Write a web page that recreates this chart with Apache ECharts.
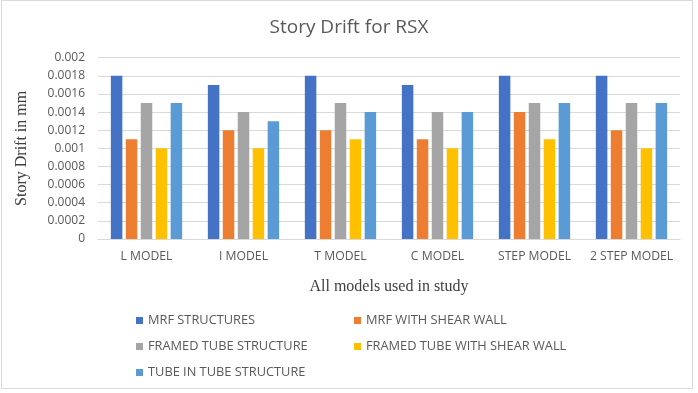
<!DOCTYPE html>
<html><head><meta charset="utf-8">
<script src="https://cdn.jsdelivr.net/npm/echarts@6/dist/echarts.min.js"></script>
<style>
html,body{margin:0;padding:0;background:#fff;}
#frame{position:absolute;left:1px;top:0;width:692px;height:389px;border:1px solid #d9d9d9;box-sizing:border-box;}
#c{position:absolute;left:0;top:0;width:698px;height:393px;}
</style></head>
<body>
<div id="frame"></div>
<div id="c"></div>
<script>
const categories = ['L MODEL', 'I MODEL', 'T MODEL', 'C MODEL', 'STEP MODEL', '2 STEP MODEL'];
const seriesNames = ['MRF STRUCTURES', 'MRF WITH SHEAR WALL', 'FRAMED TUBE STRUCTURE', 'FRAMED TUBE WITH SHEAR WALL', 'TUBE IN TUBE STRUCTURE'];
const mrfStructures = [0.0018, 0.0017, 0.0018, 0.0017, 0.0018, 0.0018];
const mrfWithShearWall = [0.0011, 0.0012, 0.0012, 0.0011, 0.0014, 0.0012];
const framedTube = [0.0015, 0.0014, 0.0015, 0.0014, 0.0015, 0.0015];
const framedTubeShearWall = [0.0010, 0.0010, 0.0011, 0.0010, 0.0011, 0.0010];
const tubeInTube = [0.0015, 0.0013, 0.0014, 0.0014, 0.0015, 0.0015];
const colors = ['#4472C4', '#ED7D31', '#A5A5A5', '#FFC000', '#5B9BD5'];
const allValues = [mrfStructures, mrfWithShearWall, framedTube, framedTubeShearWall, tubeInTube];

const chart = echarts.init(document.getElementById('c'), null, {renderer: 'canvas'});
const sans = '"Open Sans", "Noto Sans", sans-serif';
const serif = '"Liberation Serif", "DejaVu Serif", serif';

const legendPos = [
  {left: 136, top: 313},
  {left: 354, top: 313},
  {left: 136, top: 339},
  {left: 354, top: 339},
  {left: 136, top: 365}
];

chart.setOption({
  animation: false,
  color: colors,
  title: {
    text: 'Story Drift for RSX',
    left: 'center',
    top: 13,
    textStyle: {fontFamily: sans, fontSize: 19, fontWeight: 'normal', color: '#595959'}
  },
  legend: seriesNames.map((n, i) => ({
    data: [n],
    left: legendPos[i].left,
    top: legendPos[i].top,
    padding: 0,
    itemWidth: 7,
    itemHeight: 7,
    itemGap: 0,
    itemTextGap: 5,
    icon: 'rect',
    textStyle: {fontFamily: sans, fontSize: 12.8, color: '#595959', lineHeight: 15}
  })),
  grid: {left: 98, right: 18, top: 57.7, bottom: 154, containLabel: false},
  xAxis: {
    type: 'category',
    data: categories,
    name: 'All models used in study',
    nameLocation: 'middle',
    nameGap: 40,
    nameTextStyle: {fontFamily: serif, fontSize: 16, color: '#404040'},
    axisLine: {lineStyle: {color: '#d9d9d9'}},
    axisTick: {show: false},
    axisLabel: {fontFamily: sans, fontSize: 12.2, color: '#595959', margin: 12, interval: 0}
  },
  yAxis: {
    type: 'value',
    min: 0,
    max: 0.002,
    interval: 0.0002,
    name: 'Story Drift in mm',
    nameLocation: 'middle',
    nameGap: 68,
    nameTextStyle: {fontFamily: serif, fontSize: 16, color: '#404040'},
    axisLine: {show: false},
    axisTick: {show: false},
    splitLine: {lineStyle: {color: '#d9d9d9'}},
    axisLabel: {
      fontFamily: sans, fontSize: 12, color: '#595959', margin: 13,
      formatter: v => String(Number(v.toFixed(4)))
    }
  },
  series: seriesNames.map((n, i) => ({
    name: n,
    type: 'bar',
    data: allValues[i],
    barWidth: 11.5,
    barGap: '30%',
    itemStyle: {color: colors[i]}
  }))
});
</script>
</body></html>
